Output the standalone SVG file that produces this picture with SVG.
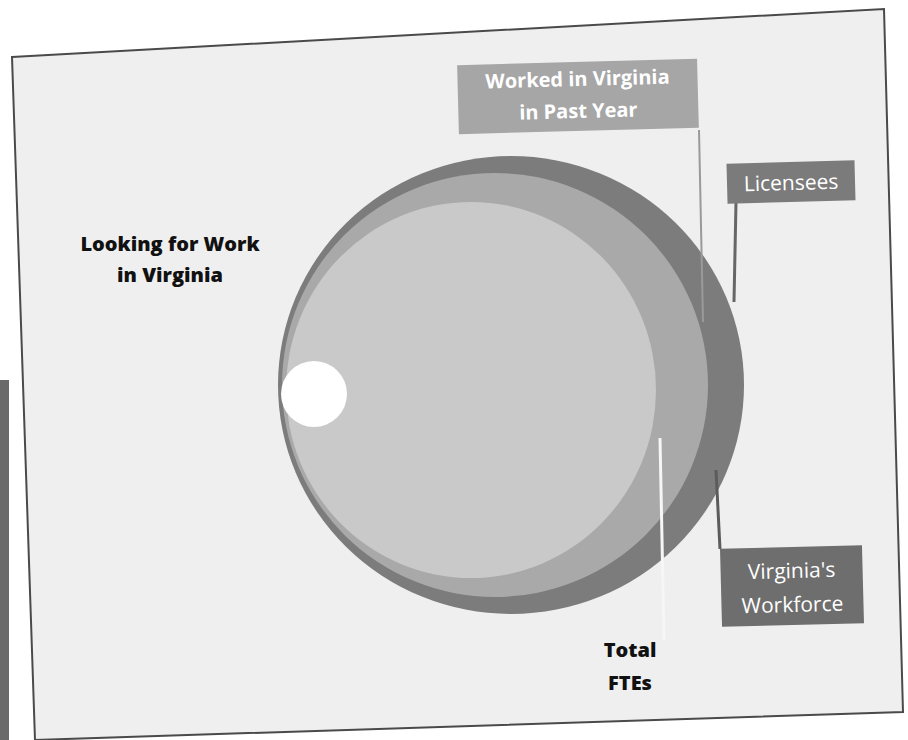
<svg xmlns="http://www.w3.org/2000/svg" width="908" height="740" viewBox="0 0 908 740">
  <style>
    .boxtxt { font-family: "Open Sans", "Liberation Sans", sans-serif; fill: #ffffff; text-anchor: middle; }
    .blk { font-family: "Open Sans", "Liberation Sans", sans-serif; font-weight: 800; fill: #111111; text-anchor: middle; }
    .conn { fill: none; }
  </style>
  <rect x="0" y="0" width="908" height="740" fill="#ffffff"/>
  <rect x="0" y="380" width="9" height="360" fill="#6a6a6a"/>
  <polygon points="12,57 884,9 903,712 35,740" fill="#efefef" stroke="#4a4a4a" stroke-width="2"/>

  <g id="licensees-circle">
    <ellipse cx="511" cy="385" rx="233" ry="229" fill="#7c7c7c"/>
  </g>
  <g id="worked-circle">
    <ellipse cx="495" cy="385" rx="213" ry="212" fill="#a9a9a9"/>
  </g>
  <g id="workforce-circle">
    <ellipse cx="471" cy="390" rx="185" ry="188" fill="#c9c9c9"/>
  </g>
  <g id="looking-circle">
    <circle cx="314" cy="394" r="33" fill="#ffffff"/>
  </g>

  <g id="connectors">
    <line class="conn" x1="699" y1="130" x2="703" y2="322" stroke="#9a9a9a" stroke-width="2"/>
    <line class="conn" x1="736" y1="202" x2="734" y2="302" stroke="#666666" stroke-width="3"/>
    <line class="conn" x1="716" y1="470" x2="720" y2="549" stroke="#5c5c5c" stroke-width="3"/>
    <line class="conn" x1="660" y1="438" x2="664" y2="640" stroke="#f6f6f6" stroke-width="3"/>
  </g>

  <g id="worked-label" transform="rotate(-1.5 578 97)">
    <rect x="458" y="62" width="240" height="69" fill="#a6a6a6"/>
    <text class="boxtxt" x="578" y="86" font-size="20" font-weight="700">Worked in Virginia</text>
    <text class="boxtxt" x="578" y="118" font-size="20" font-weight="700">in Past Year</text>
  </g>

  <g id="licensees-label" transform="rotate(-1.5 791 182)">
    <rect x="727" y="162" width="128" height="40" fill="#7b7b7b"/>
    <text class="boxtxt" x="791" y="190" font-size="21">Licensees</text>
  </g>

  <g id="workforce-label" transform="rotate(-1.5 792 586)">
    <rect x="721" y="547" width="142" height="78" fill="#6e6e6e"/>
    <text class="boxtxt" x="792" y="578" font-size="21">Virginia's</text>
    <text class="boxtxt" x="792" y="612" font-size="21">Workforce</text>
  </g>

  <g id="looking-label">
    <text class="blk" x="170" y="251" font-size="20">Looking for Work</text>
    <text class="blk" x="170" y="282" font-size="20">in Virginia</text>
  </g>

  <g id="fte-label">
    <text class="blk" x="630" y="657" font-size="20">Total</text>
    <text class="blk" x="630" y="690" font-size="20">FTEs</text>
  </g>
</svg>
